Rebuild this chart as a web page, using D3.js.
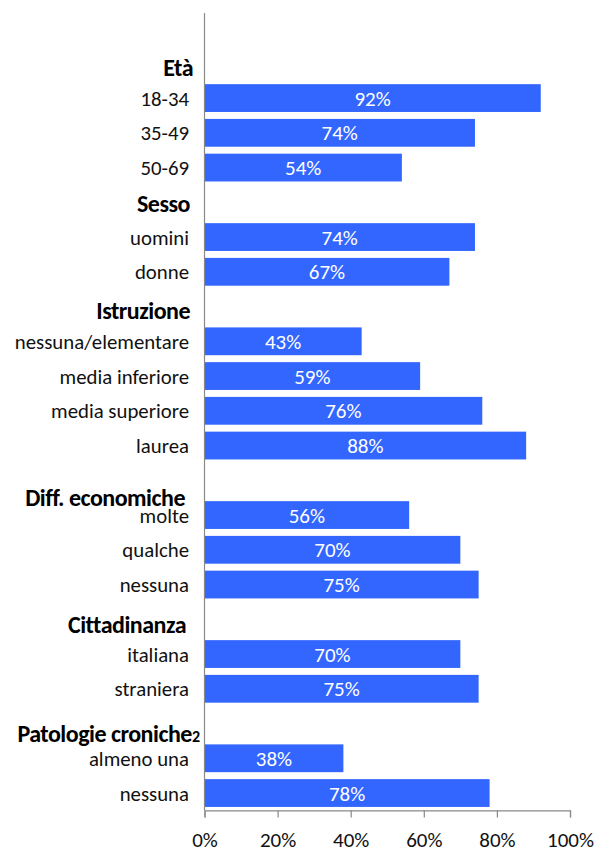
<!DOCTYPE html>
<html>
<head>
<meta charset="utf-8">
<script src="https://cdn.jsdelivr.net/npm/d3@7"></script>
<style>
  html, body { margin: 0; padding: 0; background: #fff; }
  svg { display: block; font-family: Carlito, Calibri, Lato, sans-serif; }
</style>
</head>
<body>
<svg id="chart" width="613" height="856"></svg>
<script>
// Group headings and the categories under each of them
const groups = ["Età", "Sesso", "Istruzione", "Diff. economiche", "Cittadinanza", "Patologie croniche"];
const categories = [
  "18-34", "35-49", "50-69",
  "uomini", "donne",
  "nessuna/elementare", "media inferiore", "media superiore", "laurea",
  "molte", "qualche", "nessuna",
  "italiana", "straniera",
  "almeno una", "nessuna"
];
const groupIndex = [0, 0, 0, 1, 1, 2, 2, 2, 2, 3, 3, 3, 4, 4, 5, 5];
const values = [92, 74, 54, 74, 67, 43, 59, 76, 88, 56, 70, 75, 70, 75, 38, 78];
const tickValues = [0, 20, 40, 60, 80, 100];
const tickLabels = ["0%", "20%", "40%", "60%", "80%", "100%"];

// Heading placement tweaks (vertical shift from slot centre, right edge)
const headingStyle = [
  { dy: 4,  right: 193 },
  { dy: 1,  right: 190 },
  { dy: 4,  right: 190 },
  { dy: 17, right: 185 },
  { dy: 5,  right: 186 },
  { dy: 10, right: 200 }
];

// Build the slot list: one empty slot on top, then a heading slot per group
const slots = [{ key: "top", type: "blank" }];
groups.forEach((g, gi) => {
  slots.push({ key: "h" + gi, type: "heading", group: gi });
  categories.forEach((c, i) => {
    if (groupIndex[i] === gi) slots.push({ key: "c" + i, type: "bar", index: i });
  });
});

const svg = d3.select("#chart");
const x0 = 204.5, x1 = 570, yTop = 11.2, yBottom = 810.4;

const x = d3.scaleLinear().domain([0, 100]).range([x0, x1]);
const y = d3.scaleBand()
  .domain(slots.map(s => s.key))
  .range([yTop, yBottom])
  .paddingInner(0.2)
  .paddingOuter(0.1);

const barColor = "#3366ff";
const axisColor = "#898989";
const textColor = "#111";

// Bars
const barSlots = slots.filter(s => s.type === "bar");
svg.append("g")
  .selectAll("rect")
  .data(barSlots)
  .join("rect")
  .attr("x", x(0))
  .attr("y", d => y(d.key))
  .attr("width", d => x(values[d.index]) - x(0))
  .attr("height", y.bandwidth())
  .attr("fill", barColor);

// Value labels inside the bars
svg.append("g")
  .selectAll("text")
  .data(barSlots)
  .join("text")
  .attr("x", d => (x(0) + x(values[d.index])) / 2)
  .attr("y", d => y(d.key) + y.bandwidth() / 2)
  .attr("dy", "0.36em")
  .attr("text-anchor", "middle")
  .attr("fill", "#fff")
  .attr("font-size", 21)
  .text(d => values[d.index] + "%");

// Category labels
svg.append("g")
  .selectAll("text")
  .data(barSlots)
  .join("text")
  .attr("x", 189)
  .attr("y", d => y(d.key) + y.bandwidth() / 2)
  .attr("dy", "0.36em")
  .attr("text-anchor", "end")
  .attr("fill", textColor)
  .attr("font-size", 20.8)
  .text(d => categories[d.index]);

// Group headings
const headingSlots = slots.filter(s => s.type === "heading");
const headings = svg.append("g")
  .selectAll("text")
  .data(headingSlots)
  .join("text")
  .attr("x", d => headingStyle[d.group].right)
  .attr("y", d => y(d.key) + y.bandwidth() / 2 + headingStyle[d.group].dy)
  .attr("dy", "0.36em")
  .attr("text-anchor", "end")
  .attr("fill", "#000")
  .attr("font-size", 24)
  .attr("font-weight", "bold")
  .attr("letter-spacing", -0.5);
headings.append("tspan").text(d => groups[d.group]);
headings.filter(d => groups[d.group] === "Patologie croniche")
  .append("tspan")
  .attr("font-size", 16)
  .attr("letter-spacing", 0)
  .text("2");

// Category axis line
svg.append("line")
  .attr("x1", x0).attr("x2", x0)
  .attr("y1", 13).attr("y2", yBottom)
  .attr("stroke", axisColor)
  .attr("stroke-width", 1.2);

// Value axis
const xAxis = d3.axisBottom(x)
  .tickValues(tickValues)
  .tickFormat((d, i) => tickLabels[i])
  .tickSize(7)
  .tickPadding(15);
const gx = svg.append("g")
  .attr("transform", `translate(0,${yBottom})`)
  .call(xAxis);
gx.select(".domain").attr("stroke", axisColor).attr("stroke-width", 1.2);
gx.selectAll(".tick line").attr("stroke", axisColor).attr("stroke-width", 1.2);
gx.selectAll(".tick text")
  .attr("fill", textColor)
  .attr("font-size", 21)
  .attr("font-family", "Carlito, Calibri, Lato, sans-serif");
</script>
</body>
</html>
